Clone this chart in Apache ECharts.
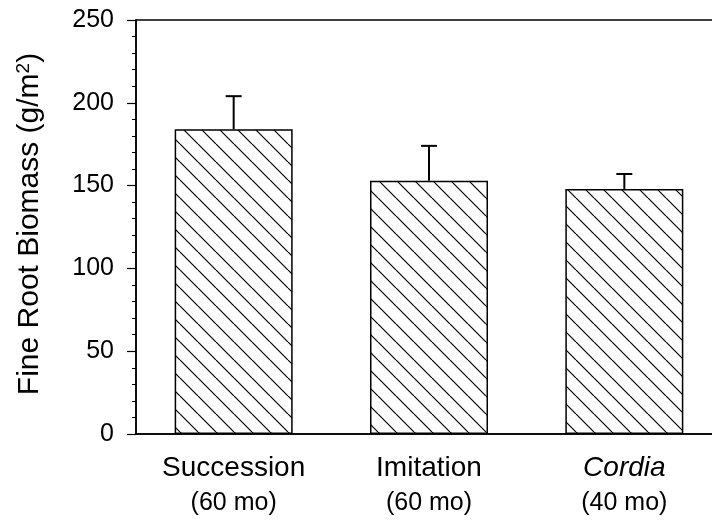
<!DOCTYPE html>
<html>
<head>
<meta charset="utf-8">
<script src="https://cdn.jsdelivr.net/npm/echarts@6/dist/echarts.min.js"></script>
<style>html,body{margin:0;padding:0;background:#fff;}#c{width:712px;height:522px;}</style>
</head>
<body>
<div id="c"></div>
<script>
const categories = ['Succession', 'Imitation', 'Cordia'];
const subLabels = ['(60 mo)', '(60 mo)', '(40 mo)'];
const means = [184, 153, 148];
const upperErr = [204, 174, 157];
const yTicks = [0, 50, 100, 150, 200, 250];

const FONT = "'Liberation Sans', Arial, Helvetica, sans-serif";

// hatch pattern
const s = 18;
const pc = document.createElement('canvas');
pc.width = s; pc.height = s;
const ctx = pc.getContext('2d');
ctx.fillStyle = '#fff';
ctx.fillRect(0, 0, s, s);
ctx.strokeStyle = '#000';
ctx.lineWidth = 1.2;
ctx.beginPath();
for (let i = -1; i <= 1; i++) {
  ctx.moveTo(i * s, 0);
  ctx.lineTo(i * s + s, s);
}
ctx.stroke();

const chart = echarts.init(document.getElementById('c'), null, {renderer: 'canvas'});
chart.setOption({
  animation: false,
  backgroundColor: '#fff',
  grid: {left: 136, top: 20, width: 586, bottom: 88, show: true, borderColor: '#000', borderWidth: 1.5, backgroundColor: 'transparent', outerBoundsMode: 'none', containLabel: false},
  xAxis: {
    type: 'category',
    data: categories,
    axisLine: {lineStyle: {color: '#000', width: 1.5}},
    axisTick: {show: false},
    axisLabel: {
      margin: 16,
      interval: 0,
      formatter: function (v, i) {
        const main = v === 'Cordia' ? '{i|' + v + '}' : '{a|' + v + '}';
        return main + '\n{b|' + subLabels[i] + '}';
      },
      rich: {
        a: {fontFamily: FONT, fontSize: 28, color: '#000', lineHeight: 36},
        i: {fontFamily: FONT, fontSize: 28, fontStyle: 'italic', color: '#000', lineHeight: 36},
        b: {fontFamily: FONT, fontSize: 25, color: '#000', lineHeight: 34}
      }
    }
  },
  yAxis: {
    type: 'value',
    min: yTicks[0],
    max: yTicks[yTicks.length - 1],
    interval: 50,
    name: 'Fine Root Biomass (g/m{sup|2})',
    nameLocation: 'middle',
    nameGap: 91,
    nameTextStyle: {
      fontFamily: FONT, fontSize: 30, color: '#000',
      padding: [0, 0, 0, 6],
      rich: {sup: {fontFamily: FONT, fontSize: 19, color: '#000', verticalAlign: 'top', padding: [0, 0, 12, 0]}}
    },
    axisLine: {show: true, lineStyle: {color: '#000', width: 1.5}},
    axisTick: {show: true, length: 9, lineStyle: {color: '#000', width: 1.2}},
    minorTick: {show: true, splitNumber: 5, length: 4, lineStyle: {color: '#000', width: 1}},
    splitLine: {show: false},
    axisLabel: {margin: 22, fontFamily: FONT, fontSize: 25, color: '#000'}
  },
  series: [
    {
      type: 'bar',
      data: means,
      barWidth: 118,
      itemStyle: {color: {image: pc, repeat: 'repeat'}, borderColor: '#000', borderWidth: 1.5},
      z: 2
    },
    {
      type: 'custom',
      data: categories.map((c, i) => [i, means[i], upperErr[i]]),
      z: 3,
      renderItem: function (params, api) {
        const p0 = api.coord([api.value(0), api.value(1)]);
        const p1 = api.coord([api.value(0), api.value(2)]);
        const hw = 8;
        return {
          type: 'group',
          children: [
            {type: 'line', shape: {x1: p0[0], y1: p0[1], x2: p1[0], y2: p1[1]}, style: {stroke: '#000', lineWidth: 2}},
            {type: 'line', shape: {x1: p1[0] - hw, y1: p1[1], x2: p1[0] + hw, y2: p1[1]}, style: {stroke: '#000', lineWidth: 2}}
          ]
        };
      }
    }
  ]
});
</script>
</body>
</html>
